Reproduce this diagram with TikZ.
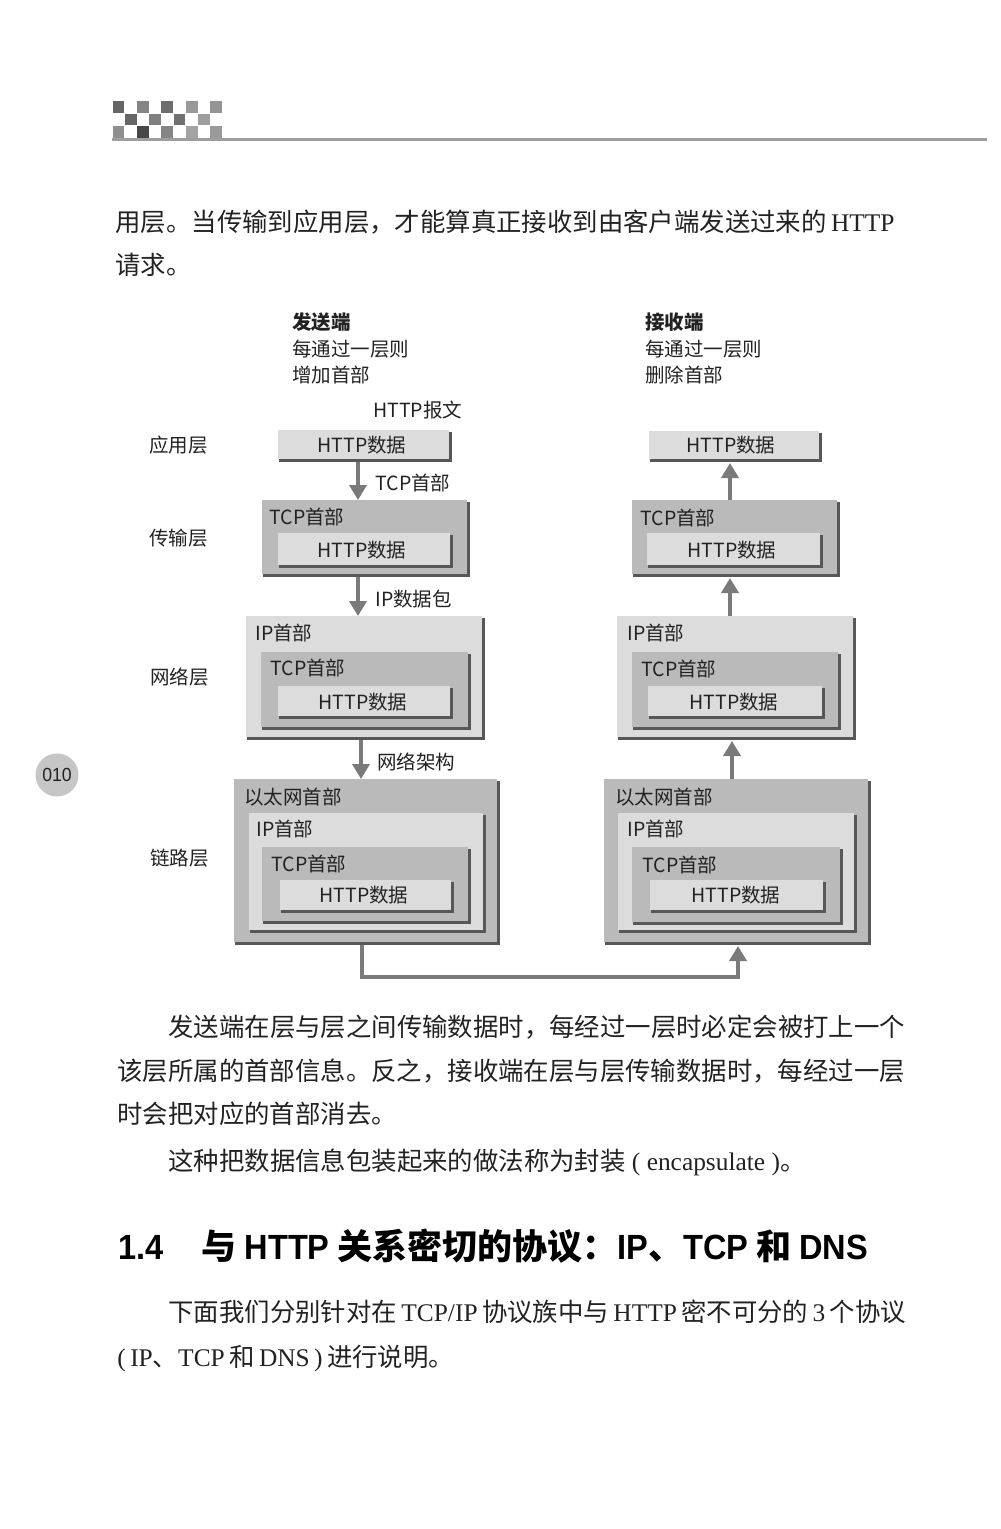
\documentclass[tikz,border=0pt]{standalone}
\usepackage{fontspec}
\setmainfont{Liberation Serif}
\newfontfamily\cjk{Noto Sans CJK SC}
\newfontfamily\hlat{Liberation Sans}[FakeStretch=0.93]
\usetikzlibrary{arrows.meta,calc}
\definecolor{shd}{HTML}{575757}
\definecolor{lite}{HTML}{DCDCDC}
\definecolor{mid}{HTML}{BABABA}
\definecolor{arrc}{HTML}{7A7A7A}
\definecolor{ink}{HTML}{222222}
\definecolor{pnc}{HTML}{C6C6C6}
\newcommand\dgf{\cjk\fontsize{9.75pt}{11pt}\selectfont}
\newcommand\bodyf{\fontsize{12.7pt}{15pt}\selectfont}
\newcommand\sq{\hspace{2.2pt}}
\newcommand\layerbox[6]{%
  \fill[shd] (#2+1,#3+2) rectangle (#4+3,#5+3);
  \node[boxn, fill=#6, minimum width={(#4-#2)*0.5pt}, minimum height={(#5-#3)*0.5pt}] (#1) at ({(#2+#4)/2},{(#3+#5)/2}) {};
}
\tikzset{
  boxn/.style={draw=none, inner sep=0, outer sep=0, anchor=center},
  dg/.style={font=\dgf, text=ink, inner sep=0},
  lbl/.style={dg, anchor=west},
  body/.style={font=\bodyf, text=ink, inner sep=0, anchor=base west},
  arr/.style={draw=arrc, line width=1.8pt, -{Triangle[width=8.5pt,length=7.5pt]}}
}
\begin{document}
\begin{tikzpicture}[x=0.5pt,y=-0.5pt]
\useasboundingbox (0,0) rectangle (1000,1529);
\fill[white] (0,0) rectangle (1000,1529);

% header checker pattern and rule
\foreach \c/\r/\g in {0/0/60,2/0/48,4/0/57,6/0/40,8/0/42,1/1/60,3/1/50,5/1/56,7/1/38,0/2/44,2/2/72,4/2/48,6/2/36,8/2/40}
  \fill[black!\g] ({112.5+12.2*\c},{101.5+12.2*\r}) rectangle +(11.8,11.8);
\draw[line width=1.5pt, black!38] (112,139.5) -- (987,139.5);

% paragraph 1
\node[body] (p1a) at (115,231.5) {{\cjk 用层。当传输到应用层，才能算真正接收到由客户端发送过来的}\sq HTTP};
\node[body] (p1b) at (115,275) {{\cjk 请求。}};

% headings of columns
\node[lbl, font=\dgf\bfseries] (snd) at (292,322) {发送端};
\node[lbl] (snd2) at (292,349) {每通过一层则};
\node[lbl] (snd3) at (292,375) {增加首部};
\node[lbl, font=\dgf\bfseries] (rcv) at (645,322) {接收端};
\node[lbl] (rcv2) at (645,349) {每通过一层则};
\node[lbl] (rcv3) at (645,375) {删除首部};
\node[lbl] (msg) at (373,410) {HTTP报文};

% layer names
\node[lbl] (n1) at (149,445) {应用层};
\node[lbl] (n2) at (149,538) {传输层};
\node[lbl] (n3) at (150,677) {网络层};
\node[lbl] (n4) at (150,858) {链路层};

% ---------- left column ----------
\layerbox{lapp}{278}{430}{449}{459}{lite}
\node[dg] (lappt) at (362,445) {HTTP数据};

\layerbox{ltcp}{262}{500}{467}{574}{mid}
\node[lbl] (ltcph) at (269,517) {TCP首部};
\layerbox{ltcpa}{278}{533}{450}{565}{lite}
\node[dg] (ltcpat) at (362,550) {HTTP数据};

\layerbox{lip}{246}{616}{482}{737}{lite}
\node[lbl] (liph) at (255,633) {IP首部};
\layerbox{lipb}{261}{652}{468}{727}{mid}
\node[lbl] (lipbh) at (270,668) {TCP首部};
\layerbox{lipa}{278}{686}{450}{716}{lite}
\node[dg] (lipat) at (363,702) {HTTP数据};

\layerbox{leth}{234}{779}{497}{942}{mid}
\node[lbl] (lethh) at (244,797) {以太网首部};
\layerbox{lethc}{249}{813}{483}{930}{lite}
\node[lbl] (lethch) at (256,829) {IP首部};
\layerbox{lethb}{262}{847}{468}{921}{mid}
\node[lbl] (lethbh) at (271,864) {TCP首部};
\layerbox{letha}{280}{880}{451}{910}{lite}
\node[dg] (lethat) at (364,895) {HTTP数据};

% ---------- right column ----------
\layerbox{rapp}{649}{431}{819}{459}{lite}
\node[dg] (rappt) at (731,445) {HTTP数据};

\layerbox{rtcp}{632}{500}{837}{574}{mid}
\node[lbl] (rtcph) at (640,518) {TCP首部};
\layerbox{rtcpa}{647}{533}{820}{565}{lite}
\node[dg] (rtcpat) at (732,550) {HTTP数据};

\layerbox{rip}{617}{616}{853}{737}{lite}
\node[lbl] (riph) at (627,633) {IP首部};
\layerbox{ripb}{632}{652}{838}{727}{mid}
\node[lbl] (ripbh) at (641,669) {TCP首部};
\layerbox{ripa}{648}{686}{822}{716}{lite}
\node[dg] (ripat) at (734,702) {HTTP数据};

\layerbox{reth}{604}{779}{868}{942}{mid}
\node[lbl] (rethh) at (615,797) {以太网首部};
\layerbox{rethc}{618}{813}{854}{930}{lite}
\node[lbl] (rethch) at (627,829) {IP首部};
\layerbox{rethb}{632}{847}{840}{922}{mid}
\node[lbl] (rethbh) at (642,865) {TCP首部};
\layerbox{retha}{650}{880}{823}{910}{lite}
\node[dg] (rethat) at (736,895) {HTTP数据};

% ---------- connectors ----------
\coordinate (ax1) at (358,0);
\coordinate (ax3) at (361,0);
\coordinate (ax4) at (362,0);
\coordinate (bx1) at (730,0);
\coordinate (bx3) at (732,0);
\coordinate (bx4) at (738,0);
\coordinate (bend) at (0,977);

\draw[arr] ($(lapp.south -| ax1)+(0,3)$) -- (ltcp.north -| ax1);
\draw[arr] ($(ltcp.south -| ax1)+(0,3)$) -- (lip.north -| ax1);
\draw[arr] ($(lip.south -| ax3)+(0,3)$) -- (leth.north -| ax3);
\node[lbl] (a1) at (375,483) {TCP首部};
\node[lbl] (a2) at (375,599) {IP数据包};
\node[lbl] (a3) at (377,762) {网络架构};

\draw[arr] ($(leth.south -| ax4)+(0,3)$) -- (ax4 |- bend) -- (bx4 |- bend) -- ($(reth.south -| bx4)+(0,4)$);

\draw[arr] (rtcp.north -| bx1) -- ($(rapp.south -| bx1)+(0,4)$);
\draw[arr] (rip.north -| bx1) -- ($(rtcp.south -| bx1)+(0,4)$);
\draw[arr] (reth.north -| bx3) -- ($(rip.south -| bx3)+(0,4)$);

% page number
\node[circle, fill=pnc, minimum size=21.5pt, inner sep=0, text=ink, font=\hlat\fontsize{9.5pt}{10pt}\selectfont] (pg) at (57,775) {010};

% paragraph 2
\node[body] (p2a) at (168,1036) {{\cjk 发送端在层与层之间传输数据时，每经过一层时必定会被打上一个}};
\node[body] (p2b) at (117,1080) {{\cjk 该层所属的首部信息。反之，接收端在层与层传输数据时，每经过一层}};
\node[body] (p2c) at (117,1123) {{\cjk 时会把对应的首部消去。}};
\node[body] (p3) at (168,1170) {{\cjk 这种把数据信息包装起来的做法称为封装} ( encapsulate ){\cjk 。}};

% section heading
\node[anchor=base west, inner sep=0, text=black, font=\fontsize{17.5pt}{20pt}\selectfont\bfseries] (hd) at (118,1259) {{\hlat 1.4}\hspace{19pt}{\cjk 与}\hspace{4pt}{\hlat HTTP}\hspace{4pt}{\cjk 关系密切的协议：}{\hlat IP}{\cjk 、}{\hlat TCP}\hspace{4pt}{\cjk 和}\hspace{4pt}{\hlat DNS}};

% paragraph 4
\node[body] (p4a) at (168,1321) {{\cjk 下面我们分别针对在}\sq TCP/IP\sq{\cjk 协议族中与}\sq HTTP\sq{\cjk 密不可分的}\sq 3\sq{\cjk 个协议}};
\node[body] (p4b) at (117,1366) {(\sq IP{\cjk 、}TCP\sq{\cjk 和}\sq DNS\sq)\sq{\cjk 进行说明。}};
\end{tikzpicture}
\end{document}
